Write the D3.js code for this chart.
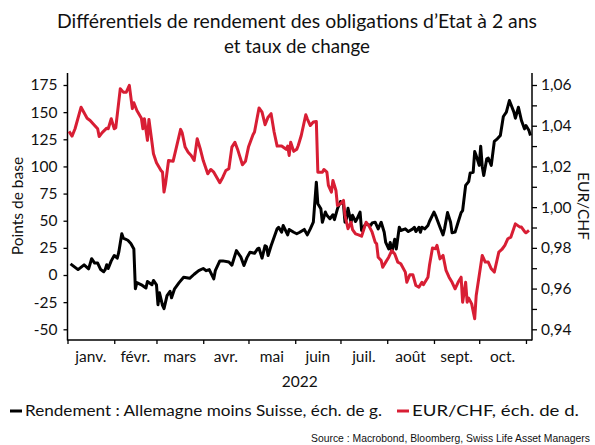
<!DOCTYPE html>
<html><head><meta charset="utf-8">
<script src="https://cdn.jsdelivr.net/npm/d3@7"></script>
<style>
body{margin:0;background:#fff}
svg{display:block}
text{font-family:Lato,"Open Sans",sans-serif;fill:#111}
</style>
</head><body>
<svg id="c" width="595" height="445"></svg>
<script>
const titleLines = ["Différentiels de rendement des obligations d’Etat à 2 ans", "et taux de change"];
const monthLabels = ["janv.","févr.","mars","avr.","mai","juin","juil.","août","sept.","oct."];
const yearLabel = "2022";
const leftTicks = [-50,-25,0,25,50,75,100,125,150,175];
const rightTicks = [0.94,0.96,0.98,1.00,1.02,1.04,1.06];
const rightMinorTicks = [0.95,0.97,0.99,1.01,1.03,1.05];
const legendLabels = ["Rendement : Allemagne moins Suisse, éch. de g.", "EUR/CHF, éch. de d."];
const sourceText = "Source : Macrobond, Bloomberg, Swiss Life Asset Managers";

// days elapsed since 1 Jan 2022
const spreadDays = [2,7,11,14,16,18,20,22,24,25,26,27,29,31,33,34,36,37,40,42,44,45,46,49,52,53,56,57,59,60,61,63,64,66,68,69,71,74,77,81,84,87,90,92,94,97,98,101,103,107,109,112,115,117,119,121,124,126,127,129,131,132,133,135,139,140,142,143,146,147,150,152,154,157,159,161,163,165,166,168,169,171,172,174,176,177,179,181,183,184,185,186,188,189,191,192,194,195,197,198,201,202,204,206,208,210,211,213,214,215,217,218,220,221,224,226,229,230,231,233,234,235,237,239,240,243,244,247,249,250,252,254,255,257,259,261,262,264,266,267,269,270,271,273,274,275,276,278,279,281,283,285,287,289,291,293,296,297,299,301,303,304,306,307];
const spreadValues = [10.3,5,9.4,5.7,15,11,11,5,3,5,9.4,6,13,18,15.5,21,38,34,32,29,24,-12.7,-7,-9,-12,-6,-9,-5,-9,-27.4,-16.4,-28,-31,-19,-15,-21,-12.7,-7,-2,-3,0.7,4,6,4,5,-3.5,4,13,13,12,9,22.5,16.4,8.7,16,21,20,24,24.7,15.5,27,26,18,27,42.5,44,39.4,45.6,37,42,39.4,38,39.4,42,37,42.5,48.6,85.5,65.6,61,48.6,58,55,51.8,55.5,51,61,67.7,65,48.6,51.8,61.5,48.6,55,49.3,51.8,58,41,45.6,47,45.6,48,48.6,42.5,48.6,39.4,30,24,30,21,33,24,44,41,42.5,40,42.5,44,40,44,39.4,44,42.5,45.6,49.3,58,55,44,37,42.5,57.5,48.6,39,39.5,48.6,57.5,59.4,82.5,86,94,94.7,113.7,110,101,118.6,100,91.6,107,107.7,101,123,125.4,128.5,146,150,160.7,150,144.4,154.5,142.3,134.6,137.7,133,128.5];

const fxDays = [1,3,5,9,13,15,18,20,21,23,26,27,29,31,32,35,37,39,41,43,44,46,49,50,51,53,54,56,57,59,62,63,64,65,67,70,72,75,76,78,80,82,84,86,88,90,93,95,97,101,103,105,107,109,111,113,116,118,120,123,124,127,129,131,133,135,137,139,142,145,146,147,148,150,152,153,155,158,159,161,163,165,166,169,170,172,173,175,176,178,179,181,183,184,186,188,189,191,193,195,198,200,202,204,205,206,208,209,211,213,215,217,219,221,224,225,227,229,231,233,235,236,239,240,242,244,245,247,249,251,253,255,257,259,261,262,264,265,266,268,270,271,273,275,277,279,281,283,286,288,290,292,294,297,300,301,303,304,306];
const fxValues = [1.0372,1.0349,1.0385,1.0491,1.0437,1.0426,1.0401,1.0385,1.0347,1.0366,1.0388,1.0385,1.0434,1.0385,1.039,1.0582,1.0565,1.0565,1.0598,1.0484,1.0513,1.0475,1.0437,1.0385,1.0434,1.0328,1.0431,1.0319,1.0262,1.0218,1.018,1.0172,1.0074,1.0115,1.0229,1.0225,1.0287,1.0382,1.0366,1.0295,1.027,1.0254,1.0229,1.0336,1.0287,1.0229,1.0164,1.0185,1.0172,1.012,1.0147,1.018,1.0189,1.0295,1.0319,1.0279,1.0208,1.0225,1.0295,1.0356,1.0369,1.0487,1.0467,1.0405,1.0442,1.0459,1.0369,1.03,1.03,1.0284,1.03,1.0254,1.0319,1.0274,1.0284,1.0303,1.0352,1.0454,1.0434,1.0401,1.0418,1.0421,1.0172,1.0172,1.0185,1.0172,1.0107,1.0074,1.0131,1.0082,1.0008,1.0017,1.0033,0.9959,0.9894,0.9926,0.989,0.9869,0.9864,0.9857,0.9926,0.9907,0.9877,0.9828,0.982,0.9754,0.9738,0.9705,0.973,0.9754,0.9787,0.977,0.973,0.9722,0.9681,0.9631,0.9668,0.9668,0.9615,0.9607,0.9631,0.9619,0.9656,0.9713,0.9799,0.9796,0.9812,0.9746,0.9763,0.9689,0.9656,0.9631,0.9599,0.9631,0.9656,0.9533,0.9631,0.9533,0.9553,0.9525,0.9452,0.9566,0.9664,0.9763,0.973,0.973,0.9697,0.9681,0.9779,0.9792,0.9812,0.9845,0.9853,0.9918,0.9902,0.9902,0.9881,0.9874,0.9886];

const BLACK = "#000000", RED = "#d81e34";
const svg = d3.select("#c");
const L = 67.5, R = 532, TOP = 73, BOT = 340;
const start = new Date(Date.UTC(2022,0,1));
const dayToDate = d => d3.utcDay.offset(start, d);
const x = d3.scaleUtc().domain([start, dayToDate(308)]).range([L, R]);
const yL = d3.scaleLinear().domain([-50,175]).range([329.3,85]);
const yR = d3.scaleLinear().domain([0.94,1.06]).range([329.3,85]);

// title
const titleWidths = [480, 146];
svg.selectAll("text.title").data(titleLines).join("text")
  .attr("class","title").attr("x",297).attr("y",(d,i)=>28+i*25)
  .attr("text-anchor","middle").style("font-size","19px")
  .attr("textLength",(d,i)=>titleWidths[i]).attr("lengthAdjust","spacingAndGlyphs").text(d=>d);

// axes
const gL = svg.append("g").attr("transform",`translate(${L},0)`)
  .call(d3.axisLeft(yL).tickValues(leftTicks).tickSize(4).tickPadding(6).tickFormat(d=>String(d)));
const gR = svg.append("g").attr("transform",`translate(${R},0)`)
  .call(d3.axisRight(yR).tickValues(rightTicks).tickSize(5).tickPadding(4).tickFormat(d=>d.toFixed(2).replace(".",",")));
const gRm = svg.append("g").attr("transform",`translate(${R},0)`)
  .call(d3.axisRight(yR).tickValues(rightMinorTicks).tickSize(5).tickFormat(""));
const monthStarts = d3.utcMonth.range(start, d3.utcDay.offset(start,305));
const gB = svg.append("g").attr("transform",`translate(0,${BOT})`)
  .call(d3.axisBottom(x).tickValues(monthStarts).tickSize(4).tickFormat(""));
[gL,gR,gRm,gB].forEach(g=>{
  g.select(".domain").remove();
  g.selectAll("line").attr("stroke","#000").attr("stroke-width",1.3);
  g.selectAll("text").style("font-size","15.5px").style("font-family","Lato,'Open Sans',sans-serif").attr("fill","#111");
});
svg.append("line").attr("x1",L).attr("x2",L).attr("y1",TOP).attr("y2",BOT+0.6).attr("stroke","#000").attr("stroke-width",1.5);
svg.append("line").attr("x1",R).attr("x2",R).attr("y1",TOP).attr("y2",BOT+0.6).attr("stroke","#000").attr("stroke-width",1.5);
svg.append("line").attr("x1",L).attr("x2",R).attr("y1",BOT).attr("y2",BOT).attr("stroke","#000").attr("stroke-width",1.5);

// month labels
svg.selectAll("text.month").data(monthLabels).join("text").attr("class","month")
  .attr("x",(d,i)=>(x(monthStarts[i])+x(monthStarts[i+1]))/2)
  .attr("y",362).attr("text-anchor","middle").style("font-size","15.5px").text(d=>d);
svg.append("text").attr("x",(L+R)/2).attr("y",387).attr("text-anchor","middle").style("font-size","15.5px").text(yearLabel);

// axis titles
svg.append("text").attr("transform","translate(23,206) rotate(-90)").attr("text-anchor","middle")
  .style("font-size","15.5px").text("Points de base");
svg.append("text").attr("transform","translate(578,206) rotate(90)").attr("text-anchor","middle")
  .style("font-size","15.5px").text("EUR/CHF");

// lines
const spread = spreadDays.map((d,i)=>({date:dayToDate(d), v:spreadValues[i]}));
const fx = fxDays.map((d,i)=>({date:dayToDate(d), v:fxValues[i]}));
svg.append("path").datum(spread).attr("fill","none").attr("stroke",BLACK).attr("stroke-width",3)
  .attr("stroke-linejoin","round").attr("d",d3.line().x(d=>x(d.date)).y(d=>yL(d.v)));
svg.append("path").datum(fx).attr("fill","none").attr("stroke",RED).attr("stroke-width",3)
  .attr("stroke-linejoin","round").attr("d",d3.line().x(d=>x(d.date)).y(d=>yR(d.v)));

// legend
const leg = [{x:10, c:BLACK, t:legendLabels[0], w:357},{x:397, c:RED, t:legendLabels[1], w:167}];
leg.forEach(o=>{
  svg.append("line").attr("x1",o.x).attr("x2",o.x+12).attr("y1",411).attr("y2",411).attr("stroke",o.c).attr("stroke-width",3);
  svg.append("text").attr("x",o.x+15).attr("y",416).style("font-size","15.5px")
    .attr("textLength",o.w).attr("lengthAdjust","spacingAndGlyphs").text(o.t);
});
svg.append("text").attr("x",590).attr("y",442).attr("text-anchor","end")
  .style("font-family","'Liberation Sans',Arial,sans-serif").style("font-size","10.5px")
  .attr("textLength",279).attr("lengthAdjust","spacingAndGlyphs").text(sourceText);
</script>
</body></html>
